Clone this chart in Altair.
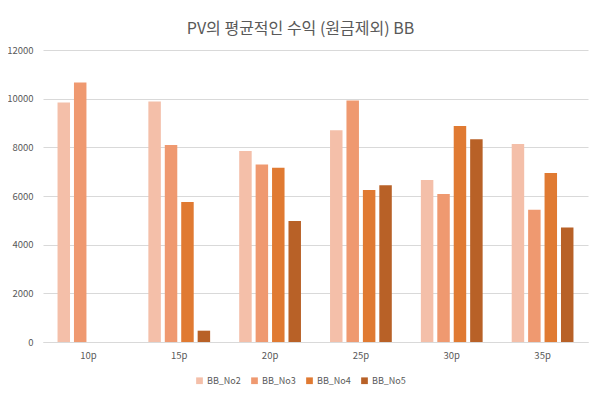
import altair as alt
import pandas as pd

categories = ["10p", "15p", "20p", "25p", "30p", "35p"]
series = ["BB_No2", "BB_No3", "BB_No4", "BB_No5"]
bb_no2 = [9840, 9880, 7850, 8700, 6660, 8140]
bb_no3 = [10660, 8100, 7290, 9920, 6080, 5430]
bb_no4 = [None, 5750, 7160, 6250, 8880, 6950]
bb_no5 = [None, 465, 4970, 6440, 8330, 4710]
colors = ["#F4BFA9", "#EF9970", "#E07A32", "#B86127"]

rows = []
for s, vals in zip(series, [bb_no2, bb_no3, bb_no4, bb_no5]):
    for c, v in zip(categories, vals):
        if v is not None:
            rows.append({"cat": c, "series": s, "value": v})
df = pd.DataFrame(rows)

font = "Noto Sans CJK KR"

chart = alt.Chart(df).mark_bar().encode(
    x=alt.X("cat:N", sort=categories, title=None,
            scale=alt.Scale(paddingInner=0.32, paddingOuter=0.16),
            axis=alt.Axis(labelAngle=0, ticks=False, domain=True, domainColor="#d9d9d9",
                          labelColor="#595959", labelFontSize=9.5, labelFont=font,
                          labelPadding=8, grid=False)),
    xOffset=alt.XOffset("series:N", sort=series,
                        scale=alt.Scale(domain=series, paddingInner=0.24, paddingOuter=0)),
    y=alt.Y("value:Q", title=None,
            scale=alt.Scale(domain=[0, 12000], nice=False),
            axis=alt.Axis(values=[0, 2000, 4000, 6000, 8000, 10000, 12000], ticks=False,
                          format="d",
                          domain=False, gridColor="#d9d9d9", labelColor="#595959",
                          labelFontSize=9.5, labelFont=font, labelPadding=10)),
    color=alt.Color("series:N", sort=series,
                    scale=alt.Scale(domain=series, range=colors),
                    legend=alt.Legend(title=None, orient="none", direction="horizontal",
                                      legendX=152, legendY=326, symbolType="square",
                                      symbolSize=45, symbolStrokeWidth=0,
                                      labelColor="#595959", labelFontSize=9,
                                      labelFont=font, labelOffset=3, columnPadding=9)),
).properties(
    width=545,
    height=292,
    title=alt.TitleParams("PV의 평균적인 수익 (원금제외) BB", fontSize=16, font=font,
                          fontWeight="normal", color="#595959", dx=-15, offset=8),
    autosize=alt.AutoSizeParams(type="none"),
    padding={"left": 35, "top": 42, "right": 6, "bottom": 48},
).configure_view(stroke=None)

chart.save("out.html", embed_options={"renderer": "svg", "actions": False})
